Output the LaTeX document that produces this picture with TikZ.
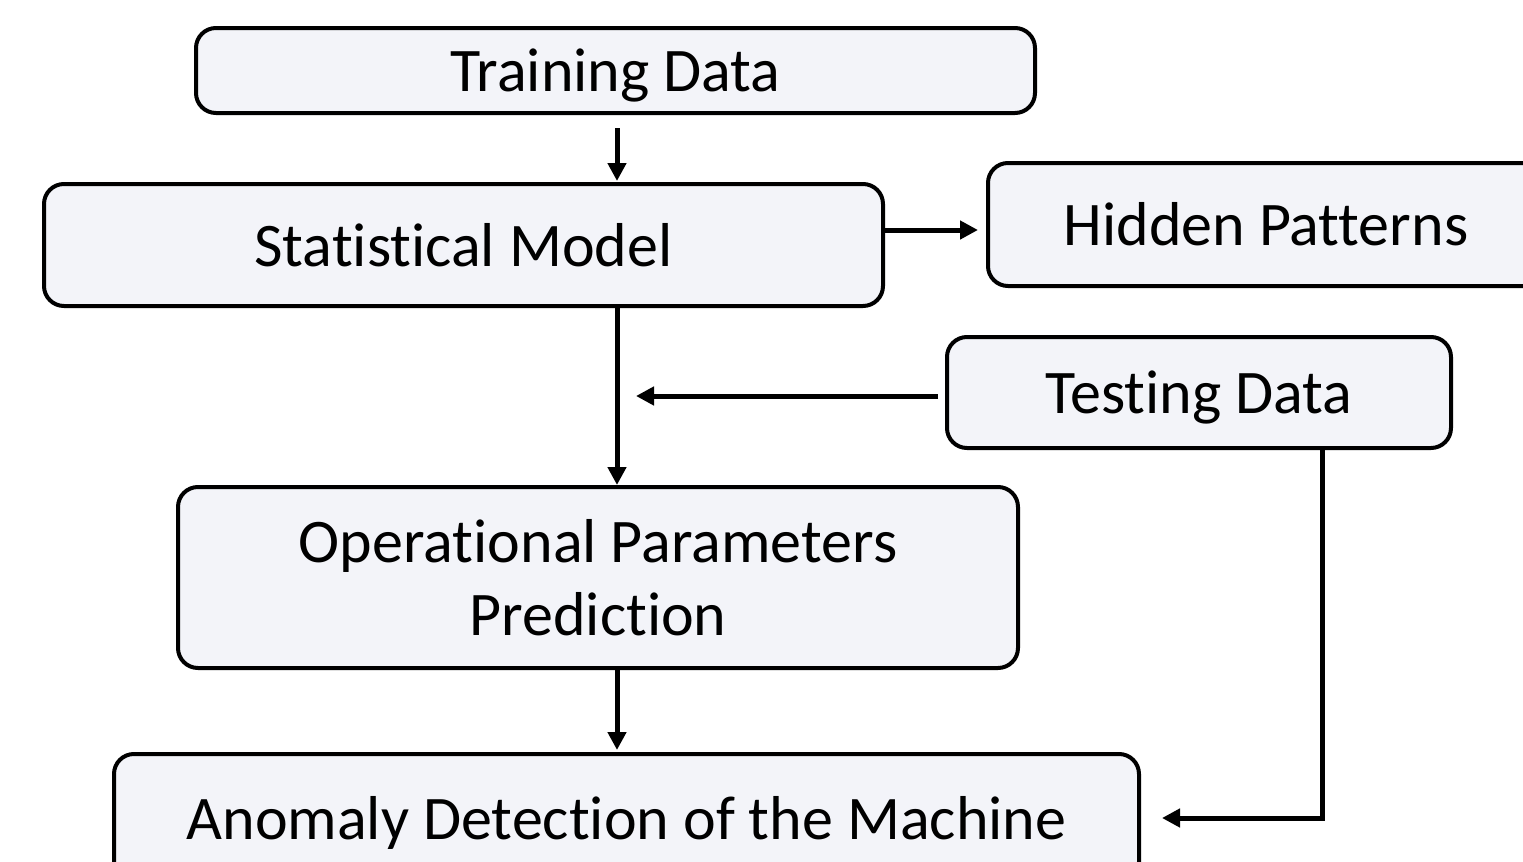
\documentclass[tikz,border=0pt]{standalone}
\usepackage{fontspec}
\setmainfont[Ligatures={NoCommon,NoRequired,NoContextual}]{Carlito}
\usetikzlibrary{arrows.meta}
\definecolor{boxfill}{HTML}{F3F4F9}
\tikzset{
  box/.style={draw=black, line width=2pt, fill=boxfill, rounded corners=10pt, align=center,
    font=\fontsize{31}{36.5}\selectfont, inner sep=0pt},
  oneline/.style={text height=29pt, text depth=7.8pt},
  arr/.style={line width=2.5pt, -{Triangle[length=9pt,width=9pt]}}
}
\begin{document}
\begin{tikzpicture}[x=0.5pt,y=-0.5pt]
\useasboundingbox (0,0) rectangle (1523,862);
\clip (0,0) rectangle (1523,862);
\node[box, oneline, minimum width=419.5pt, minimum height=42.5pt] (train) at (615.5,70.5) {Training Data};
\node[box, oneline, minimum width=419.5pt, minimum height=61pt] (stat) at (463.5,245) {Statistical Model};
\node[box, oneline, minimum width=278pt, minimum height=61.5pt] (hidden) at (1266,224.5) {Hidden Patterns};
\node[box, oneline, minimum width=252pt, minimum height=55.5pt] (test) at (1199,392.5) {Testing Data};
\node[box, minimum width=420pt, minimum height=90.5pt] (oper) at (598,577.5) {Operational Parameters\\Prediction};
\node[box, oneline, minimum width=512.5pt, minimum height=64pt] (anom) at (626.5,818) {Anomaly Detection of the Machine};
\coordinate (vx) at (617,0);
\coordinate (hy) at (0,230);
\coordinate (join) at (636,396);
\coordinate (tx) at (1322,0);
\coordinate (corner) at (1322,818);
\draw[arr, shorten <=6.5pt, shorten >=0.5pt] (train.south -| vx) -- (stat.north -| vx);
\draw[arr, shorten >=4pt] (stat.east |- hy) -- (hidden.west |- hy);
\draw[arr] (stat.south -| vx) -- (oper.north -| vx);
\draw[arr, shorten <=3.5pt] (test.west |- join) -- (join);
\draw[arr, shorten >=1pt] (oper.south -| vx) -- (anom.north -| vx);
\draw[arr, shorten >=10.5pt] (test.south -| tx) -- (corner) -- (anom.east |- corner);
\end{tikzpicture}
\end{document}
